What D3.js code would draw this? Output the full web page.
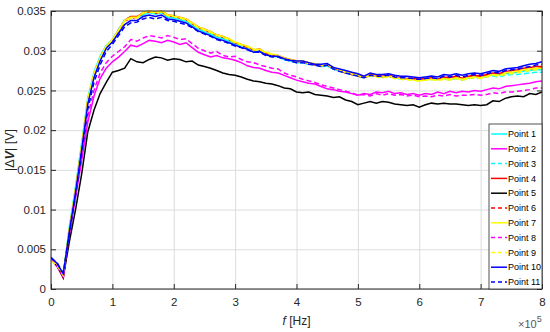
<!DOCTYPE html>
<html>
<head>
<meta charset="utf-8">
<script src="https://cdn.jsdelivr.net/npm/d3@7"></script>
<style>
  body { margin: 0; background: #fff; }
  svg { display: block; font-family: Arial, 'Liberation Sans', sans-serif; }
</style>
</head>
<body>
<svg id="chart" width="550" height="332"></svg>
<script>
// frequency samples, in units of 1e5 Hz
const freq = [0, 0.1, 0.2, 0.3, 0.4, 0.5, 0.6, 0.7, 0.8, 0.9,
  1.0, 1.1, 1.2, 1.3, 1.4, 1.5, 1.6, 1.7, 1.8, 1.9,
  2.0, 2.1, 2.2, 2.3, 2.4, 2.5, 2.6, 2.7, 2.8, 2.9,
  3.0, 3.1, 3.2, 3.3, 3.4, 3.5, 3.6, 3.7, 3.8, 3.9,
  4.0, 4.1, 4.2, 4.3, 4.4, 4.5, 4.6, 4.7, 4.8, 4.9,
  5.0, 5.1, 5.2, 5.3, 5.4, 5.5, 5.6, 5.7, 5.8, 5.9,
  6.0, 6.1, 6.2, 6.3, 6.4, 6.5, 6.6, 6.7, 6.8, 6.9,
  7.0, 7.1, 7.2, 7.3, 7.4, 7.5, 7.6, 7.7, 7.8, 7.9,
  8.0];

const xTicks = [0, 1, 2, 3, 4, 5, 6, 7, 8];
// |dV| values below are in mV, tick labels show volts
const yTicks = [0, 5, 10, 15, 20, 25, 30, 35];
const yTickLabels = ['0', '0.005', '0.01', '0.015', '0.02', '0.025', '0.03', '0.035'];

const names = ['Point 1', 'Point 2', 'Point 3', 'Point 4', 'Point 5', 'Point 6',
  'Point 7', 'Point 8', 'Point 9', 'Point 10', 'Point 11'];

const point1 = [3.7, 3.1, 1.9, 7.9, 12.9, 18.4, 24.1, 27.3, 29.3, 30.7,
  31.4, 32.6, 33.8, 34.2, 34.2, 34.5, 34.8, 34.6, 34.8, 34.2,
  34.1, 33.9, 33.7, 33.2, 32.7, 32.4, 32.1, 31.7, 31.5, 31.2,
  30.8, 30.5, 30.3, 29.9, 30.0, 29.5, 29.3, 29.2, 28.9, 28.7,
  28.5, 28.5, 28.3, 28.2, 28.0, 28.1, 27.7, 27.4, 27.2, 27.0,
  26.8, 26.6, 26.9, 26.8, 26.7, 26.8, 26.6, 26.5, 26.5, 26.4,
  26.3, 26.4, 26.5, 26.4, 26.5, 26.4, 26.6, 26.4, 26.6, 26.7,
  26.6, 26.8, 27.0, 26.9, 27.1, 27.2, 27.3, 27.4, 27.5, 27.6,
  27.6];
const point2 = [3.8, 2.8, 1.4, 6.8, 11.5, 16.2, 21.0, 24.3, 26.5, 27.8,
  28.6, 29.2, 29.9, 30.7, 30.5, 30.9, 31.3, 31.2, 31.0, 31.3,
  31.1, 30.8, 31.0, 30.4, 29.8, 29.5, 29.2, 29.4, 29.1, 29.0,
  28.8, 28.5, 28.1, 27.9, 27.8, 27.5, 27.3, 27.2, 26.9, 26.6,
  26.3, 26.1, 25.9, 25.8, 25.5, 25.2, 25.1, 24.9, 24.8, 24.6,
  24.4, 24.6, 24.5, 24.8, 24.7, 24.9, 24.6, 24.7, 24.5, 24.6,
  24.4, 24.6, 24.5, 24.8, 24.6, 24.9, 24.7, 24.9, 24.8, 25.0,
  24.9, 25.1, 25.3, 25.2, 25.5, 25.6, 25.7, 25.8, 25.9, 26.1,
  26.2];
const point3 = [3.6, 3.0, 1.8, 7.7, 12.7, 18.2, 23.9, 27.1, 29.1, 30.6,
  31.4, 32.7, 33.9, 34.3, 34.1, 34.6, 34.9, 34.6, 34.8, 34.3,
  34.2, 34.0, 33.7, 33.3, 32.8, 32.4, 32.1, 31.8, 31.5, 31.2,
  30.8, 30.6, 30.3, 30.0, 29.9, 29.5, 29.3, 29.3, 28.9, 28.7,
  28.6, 28.5, 28.3, 28.3, 28.0, 28.1, 27.7, 27.5, 27.2, 27.0,
  26.8, 26.6, 26.9, 26.8, 26.6, 26.8, 26.6, 26.4, 26.4, 26.3,
  26.2, 26.3, 26.4, 26.3, 26.5, 26.3, 26.5, 26.3, 26.5, 26.6,
  26.5, 26.7, 26.8, 26.7, 26.9, 27.0, 27.0, 27.1, 27.2, 27.3,
  27.3];
const point4 = [3.8, 3.0, 1.4, 7.4, 12.4, 17.9, 23.7, 26.9, 29.0, 30.5,
  31.3, 32.6, 33.8, 34.3, 34.3, 34.8, 35.0, 34.8, 35.0, 34.5,
  34.4, 34.2, 34.0, 33.5, 33.0, 32.7, 32.4, 32.0, 31.8, 31.5,
  31.0, 30.8, 30.5, 30.1, 30.2, 29.7, 29.5, 29.4, 29.1, 28.9,
  28.7, 28.7, 28.5, 28.3, 28.2, 28.3, 27.9, 27.5, 27.3, 27.1,
  26.9, 26.7, 27.0, 26.9, 26.8, 26.9, 26.7, 26.6, 26.5, 26.5,
  26.4, 26.5, 26.6, 26.4, 26.7, 26.6, 26.8, 26.5, 26.8, 26.9,
  26.8, 27.0, 27.2, 27.1, 27.4, 27.5, 27.6, 27.8, 27.9, 28.0,
  28.0];
const point5 = [3.8, 2.9, 1.5, 6.0, 10.0, 14.5, 19.8, 22.5, 24.6, 26.0,
  27.3, 27.5, 27.8, 29.0, 28.6, 28.5, 28.9, 29.2, 29.1, 28.8,
  29.0, 28.9, 28.6, 28.7, 28.2, 28.0, 27.8, 27.5, 27.2, 27.0,
  26.9, 26.7, 26.4, 26.2, 26.1, 25.9, 25.8, 25.6, 25.3, 25.2,
  24.8, 24.7, 24.8, 24.5, 24.4, 24.3, 24.1, 24.2, 23.8, 23.6,
  23.2, 23.4, 23.6, 23.4, 23.6, 23.5, 23.3, 23.2, 23.1, 23.2,
  22.9, 23.2, 23.4, 23.3, 23.4, 23.3, 23.3, 23.2, 23.1, 23.2,
  23.1, 23.2, 23.7, 23.6, 24.0, 24.2, 24.3, 24.2, 24.6, 24.5,
  24.8];
const point6 = [3.7, 3.0, 1.6, 7.5, 12.5, 18.0, 23.8, 27.0, 29.0, 30.5,
  31.3, 32.5, 33.7, 34.1, 34.2, 34.7, 34.9, 34.7, 34.9, 34.4,
  34.3, 34.1, 33.9, 33.4, 32.9, 32.6, 32.3, 31.9, 31.7, 31.4,
  31.0, 30.7, 30.4, 30.1, 30.1, 29.6, 29.4, 29.3, 29.0, 28.8,
  28.6, 28.6, 28.4, 28.2, 28.1, 28.2, 27.8, 27.5, 27.2, 27.0,
  26.8, 26.6, 26.9, 26.8, 26.7, 26.8, 26.6, 26.5, 26.4, 26.4,
  26.3, 26.4, 26.5, 26.4, 26.6, 26.5, 26.7, 26.5, 26.7, 26.8,
  26.7, 26.9, 27.1, 27.0, 27.2, 27.3, 27.4, 27.6, 27.7, 27.8,
  27.9];
const point7 = [3.8, 3.1, 1.8, 7.6, 12.6, 18.1, 23.9, 27.1, 29.1, 30.6,
  31.4, 32.6, 33.8, 34.2, 34.2, 34.8, 35.0, 34.8, 35.0, 34.5,
  34.4, 34.2, 34.0, 33.5, 33.0, 32.7, 32.4, 32.0, 31.8, 31.5,
  31.1, 30.8, 30.6, 30.2, 30.2, 29.8, 29.6, 29.4, 29.1, 28.9,
  28.7, 28.7, 28.5, 28.4, 28.2, 28.3, 27.9, 27.6, 27.3, 27.1,
  26.9, 26.7, 26.9, 26.8, 26.7, 26.8, 26.6, 26.5, 26.4, 26.3,
  26.2, 26.3, 26.4, 26.3, 26.5, 26.4, 26.6, 26.4, 26.6, 26.7,
  26.6, 26.8, 27.0, 26.9, 27.2, 27.3, 27.4, 27.6, 27.7, 27.8,
  27.8];
const point8 = [3.7, 2.9, 1.5, 7.0, 11.9, 16.8, 21.8, 25.0, 27.2, 28.5,
  29.3, 29.9, 30.5, 31.4, 31.2, 31.6, 31.9, 31.8, 31.6, 31.9,
  31.7, 31.4, 31.5, 30.9, 30.3, 30.0, 29.7, 29.9, 29.4, 29.2,
  29.3, 28.9, 28.6, 28.5, 28.2, 28.0, 27.8, 27.7, 27.2, 26.9,
  26.7, 26.4, 26.2, 26.0, 25.7, 25.5, 25.3, 25.1, 24.9, 24.7,
  24.4, 24.5, 24.3, 24.6, 24.4, 24.6, 24.4, 24.5, 24.3, 24.4,
  24.2, 24.3, 24.2, 24.4, 24.3, 24.5, 24.3, 24.4, 24.4, 24.5,
  24.4, 24.5, 24.7, 24.6, 24.8, 24.8, 24.9, 25.0, 25.1, 25.3,
  25.3];
const point9 = [3.5, 3.0, 1.7, 7.5, 12.5, 18.0, 23.8, 27.0, 29.0, 30.5,
  31.3, 32.5, 33.7, 34.1, 34.1, 34.7, 34.9, 34.7, 34.9, 34.4,
  34.3, 34.1, 33.9, 33.4, 32.9, 32.6, 32.3, 31.9, 31.7, 31.4,
  31.0, 30.7, 30.5, 30.1, 30.1, 29.7, 29.5, 29.3, 29.0, 28.8,
  28.6, 28.6, 28.4, 28.3, 28.1, 28.2, 27.8, 27.5, 27.3, 27.1,
  26.9, 26.6, 26.8, 26.7, 26.6, 26.7, 26.5, 26.4, 26.3, 26.3,
  26.2, 26.3, 26.4, 26.2, 26.4, 26.3, 26.5, 26.3, 26.5, 26.6,
  26.5, 26.7, 26.9, 26.8, 27.0, 27.1, 27.2, 27.4, 27.5, 27.6,
  27.7];
const point10 = [4.0, 3.2, 1.9, 7.3, 12.2, 17.6, 23.3, 26.6, 28.7, 30.3,
  31.1, 32.2, 33.3, 33.8, 33.8, 34.3, 34.5, 34.3, 34.5, 34.0,
  33.9, 33.7, 33.5, 33.0, 32.5, 32.2, 31.9, 31.5, 31.3, 31.0,
  30.7, 30.4, 30.2, 29.8, 29.9, 29.5, 29.3, 29.3, 29.0, 28.8,
  28.7, 28.7, 28.5, 28.3, 28.3, 28.4, 27.9, 27.7, 27.5, 27.3,
  27.1, 26.8, 27.2, 27.0, 27.0, 27.1, 26.9, 26.8, 26.8, 26.7,
  26.6, 26.7, 26.8, 26.7, 27.0, 26.9, 27.1, 26.9, 27.1, 27.2,
  27.1, 27.3, 27.5, 27.4, 27.7, 27.8, 27.9, 28.1, 28.3, 28.4,
  28.6];
const point11 = [3.9, 3.3, 2.0, 7.0, 11.8, 17.0, 22.6, 26.0, 28.2, 29.9,
  30.8, 31.9, 33.0, 33.5, 33.6, 34.0, 34.2, 34.0, 34.2, 33.8,
  33.7, 33.5, 33.3, 32.9, 32.4, 32.1, 31.8, 31.4, 31.2, 30.9,
  30.6, 30.4, 30.1, 29.8, 29.8, 29.4, 29.2, 29.2, 28.9, 28.7,
  28.5, 28.5, 28.3, 28.2, 28.0, 28.2, 27.7, 27.4, 27.2, 27.0,
  26.8, 26.6, 26.9, 26.8, 26.8, 26.9, 26.7, 26.6, 26.6, 26.5,
  26.4, 26.5, 26.6, 26.5, 26.8, 26.7, 26.9, 26.7, 26.9, 27.0,
  26.9, 27.1, 27.3, 27.2, 27.5, 27.6, 27.7, 27.9, 28.0, 28.2,
  28.3];

const colors = ['#00ffff', '#ff00ff', '#00ffff', '#ff0000', '#000000', '#ff0000',
  '#ffff00', '#ff00ff', '#ffff00', '#0000ff', '#0000ff'];
const dashed = [false, false, true, false, false, true, false, true, true, false, true];

const series = [point1, point2, point3, point4, point5, point6,
  point7, point8, point9, point10, point11].map((v, i) => ({
  name: names[i], values: v, color: colors[i], dashed: dashed[i]
}));

const svg = d3.select('#chart');
const margin = {top: 11, right: 8, bottom: 43, left: 51};
const width = +svg.attr('width') - margin.left - margin.right;
const height = +svg.attr('height') - margin.top - margin.bottom;
const axisColor = '#262626';

svg.append('rect').attr('width', 550).attr('height', 332).attr('fill', '#fff');

const g = svg.append('g')
  .attr('transform', 'translate(' + margin.left + ',' + margin.top + ')');

const x = d3.scaleLinear().domain([0, 8]).range([0, width]);
const y = d3.scaleLinear().domain([0, 35]).range([height, 0]);

// grid
g.append('g')
  .attr('transform', 'translate(0,' + height + ')')
  .call(d3.axisBottom(x).tickValues(xTicks).tickSize(-height).tickFormat(''))
  .call(s => s.select('.domain').remove())
  .call(s => s.selectAll('line').attr('stroke', '#dcdcdc'));
g.append('g')
  .call(d3.axisLeft(y).tickValues(yTicks).tickSize(-width).tickFormat(''))
  .call(s => s.select('.domain').remove())
  .call(s => s.selectAll('line').attr('stroke', '#dcdcdc'));

g.append('defs').append('clipPath').attr('id', 'plot-clip')
  .append('rect').attr('x', 0).attr('y', -1).attr('width', width).attr('height', height + 2);

const line = d3.line()
  .x((d, i) => x(freq[i]))
  .y(d => y(d));

g.append('g')
  .attr('clip-path', 'url(#plot-clip)')
  .selectAll('path')
  .data(series)
  .enter().append('path')
  .attr('fill', 'none')
  .attr('stroke', d => d.color)
  .attr('stroke-width', 1.5)
  .attr('stroke-dasharray', d => d.dashed ? '5,3' : null)
  .attr('d', d => line(d.values));

// axes with inward ticks
function styleAxis(s) {
  s.select('.domain').remove();
  s.selectAll('line').attr('stroke', axisColor);
  s.selectAll('text').attr('fill', axisColor).attr('font-size', 11.5);
}

g.append('g')
  .attr('transform', 'translate(0,' + height + ')')
  .call(d3.axisBottom(x).tickValues(xTicks).tickSizeInner(-5).tickSizeOuter(0).tickPadding(9))
  .call(styleAxis);
g.append('g')
  .call(d3.axisTop(x).tickValues(xTicks).tickSizeInner(-5).tickSizeOuter(0).tickFormat(''))
  .call(styleAxis);
g.append('g')
  .call(d3.axisLeft(y).tickValues(yTicks).tickSizeInner(-5).tickSizeOuter(0).tickPadding(5)
    .tickFormat((d, i) => yTickLabels[i]))
  .call(styleAxis);
g.append('g')
  .attr('transform', 'translate(' + width + ',0)')
  .call(d3.axisRight(y).tickValues(yTicks).tickSizeInner(-5).tickSizeOuter(0).tickFormat(''))
  .call(styleAxis);

g.append('rect')
  .attr('width', width).attr('height', height)
  .attr('fill', 'none').attr('stroke', axisColor).attr('stroke-width', 1);

// axis labels
const xl = svg.append('text')
  .attr('x', margin.left + width / 2).attr('y', 325)
  .attr('text-anchor', 'middle').attr('font-size', 12).attr('fill', axisColor);
xl.append('tspan').attr('font-style', 'italic').text('f');
xl.append('tspan').text(' [Hz]');

const yl = svg.append('text')
  .attr('transform', 'translate(14,' + (margin.top + height / 2) + ') rotate(-90)')
  .attr('text-anchor', 'middle').attr('font-size', 12.5).attr('fill', axisColor);
yl.append('tspan').text('|Δ');
yl.append('tspan').attr('font-style', 'italic').attr('font-weight', 'bold').text('V');
yl.append('tspan').text('| [V]');

const ex = svg.append('text')
  .attr('x', 518).attr('y', 328).attr('font-size', 11).attr('fill', '#555');
ex.append('tspan').text('×10');
ex.append('tspan').attr('dy', -6).attr('font-size', 9).text('5');

// legend
const lgX = 489, lgY = 124, lgW = 53, lgH = 165, rowH = 14.8;
const legend = svg.append('g');
legend.append('rect')
  .attr('x', lgX).attr('y', lgY).attr('width', lgW).attr('height', lgH)
  .attr('fill', '#fff').attr('stroke', axisColor).attr('stroke-width', 0.8);
const item = legend.selectAll('g.item')
  .data(series)
  .enter().append('g')
  .attr('class', 'item')
  .attr('transform', (d, i) => 'translate(' + lgX + ',' + (lgY + 10 + i * rowH) + ')');
item.append('line')
  .attr('x1', 2).attr('x2', 18)
  .attr('stroke', d => d.color).attr('stroke-width', 1.5)
  .attr('stroke-dasharray', d => d.dashed ? '4,3' : null);
item.append('text')
  .attr('x', 19).attr('dy', '0.35em')
  .attr('font-size', 9).attr('fill', '#000')
  .text(d => d.name);
</script>
</body>
</html>
